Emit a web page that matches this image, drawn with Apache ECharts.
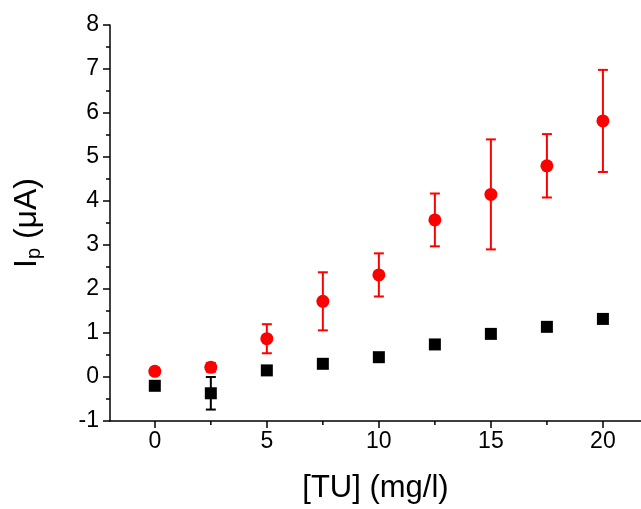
<!DOCTYPE html>
<html>
<head>
<meta charset="utf-8">
<script src="https://cdn.jsdelivr.net/npm/echarts@6/dist/echarts.min.js"></script>
<style>html,body{margin:0;padding:0;background:#fff}#c{width:641px;height:509px}</style>
</head>
<body>
<div id="c"></div>
<script>
const xValues = [0, 2.5, 5, 7.5, 10, 12.5, 15, 17.5, 20];
const redMean = [0.13, 0.22, 0.87, 1.72, 2.32, 3.57, 4.15, 4.80, 5.82];
const redErr = [0.08, 0.10, 0.33, 0.66, 0.49, 0.60, 1.25, 0.72, 1.16];
const blackMean = [-0.20, -0.37, 0.15, 0.30, 0.45, 0.74, 0.98, 1.14, 1.32];
const blackErr = [0.06, 0.37, 0.04, 0.04, 0.05, 0.05, 0.05, 0.06, 0.05];
const xMajorTicks = [0, 5, 10, 15, 20];
const xMinorTicks = [2.5, 7.5, 12.5, 17.5];
const xMin = -2, xMax = 21.7, yMin = -1, yMax = 8;

const FONT = '"Liberation Sans", Arial, sans-serif';

function errData(mean, err) {
  return xValues.map((x, i) => [x, mean[i] - err[i], mean[i] + err[i]]);
}
function errRender(color) {
  return function (params, api) {
    const x = api.value(0), lo = api.value(1), hi = api.value(2);
    const pHi = api.coord([x, hi]);
    const pLo = api.coord([x, lo]);
    const hw = 5;
    const style = { stroke: color, lineWidth: 2 };
    return {
      type: 'group',
      children: [
        { type: 'line', shape: { x1: pHi[0], y1: pHi[1], x2: pLo[0], y2: pLo[1] }, style },
        { type: 'line', shape: { x1: pHi[0] - hw, y1: pHi[1], x2: pHi[0] + hw, y2: pHi[1] }, style },
        { type: 'line', shape: { x1: pLo[0] - hw, y1: pLo[1], x2: pLo[0] + hw, y2: pLo[1] }, style }
      ]
    };
  };
}
// minor x ticks, placed on the x axis through the chart's own scale
function minorTickRender(params, api) {
  const p = api.coord([api.value(0), api.value(1)]);
  return {
    type: 'line',
    shape: { x1: p[0], y1: p[1], x2: p[0], y2: p[1] + 4 },
    style: { stroke: '#000', lineWidth: 1.5 }
  };
}

const chart = echarts.init(document.getElementById('c'), null, { renderer: 'canvas' });
const axisLineStyle = { color: '#000', width: 1.5 };
chart.setOption({
  animation: false,
  backgroundColor: '#fff',
  grid: { left: 110, right: 0, top: 25, bottom: 87, containLabel: false },
  xAxis: {
    type: 'value', min: xMin, max: xMax, position: 'bottom',
    name: '[TU] (mg/l)', nameLocation: 'middle', nameGap: 52,
    nameTextStyle: { fontFamily: FONT, fontSize: 31, color: '#000' },
    axisLine: { show: true, onZero: false, lineStyle: axisLineStyle },
    axisTick: { show: true, inside: false, length: 7, customValues: xMajorTicks, lineStyle: { color: '#000', width: 1.5 } },
    axisLabel: { customValues: xMajorTicks, fontFamily: FONT, fontSize: 23, color: '#000', margin: 9 },
    splitLine: { show: false }
  },
  yAxis: {
    type: 'value', min: yMin, max: yMax, interval: 1,
    name: '{i|I}{s|p}{i| (μA)}', nameLocation: 'middle', nameGap: 66, nameRotate: 90,
    nameTextStyle: {
      rich: {
        i: { fontFamily: FONT, fontSize: 32, color: '#000' },
        s: { fontFamily: FONT, fontSize: 20, color: '#000', verticalAlign: 'bottom', padding: [14, 0, 0, 0] }
      }
    },
    axisLine: { show: true, onZero: false, lineStyle: axisLineStyle },
    axisTick: { show: true, inside: false, length: 7, lineStyle: { color: '#000', width: 1.5 } },
    minorTick: { show: true, splitNumber: 2, length: 4, lineStyle: { color: '#000', width: 1.5 } },
    axisLabel: { fontFamily: FONT, fontSize: 23, color: '#000', margin: 11 },
    splitLine: { show: false },
    minorSplitLine: { show: false }
  },
  series: [
    {
      type: 'custom', renderItem: minorTickRender, clip: false, silent: true,
      encode: { x: 0, y: 1 }, data: xMinorTicks.map(v => [v, yMin]), z: 1
    },
    {
      type: 'custom', renderItem: errRender('#000000'),
      encode: { x: 0, y: [1, 2] }, data: errData(blackMean, blackErr), z: 2
    },
    {
      type: 'scatter', symbol: 'rect', symbolSize: 12,
      itemStyle: { color: '#000000', opacity: 1 },
      data: xValues.map((x, i) => [x, blackMean[i]]), z: 3
    },
    {
      type: 'custom', renderItem: errRender('#ff0000'),
      encode: { x: 0, y: [1, 2] }, data: errData(redMean, redErr), z: 4
    },
    {
      type: 'scatter', symbol: 'circle', symbolSize: 13,
      itemStyle: { color: '#ff0000', opacity: 1 },
      data: xValues.map((x, i) => [x, redMean[i]]), z: 5
    }
  ]
});
</script>
</body>
</html>
